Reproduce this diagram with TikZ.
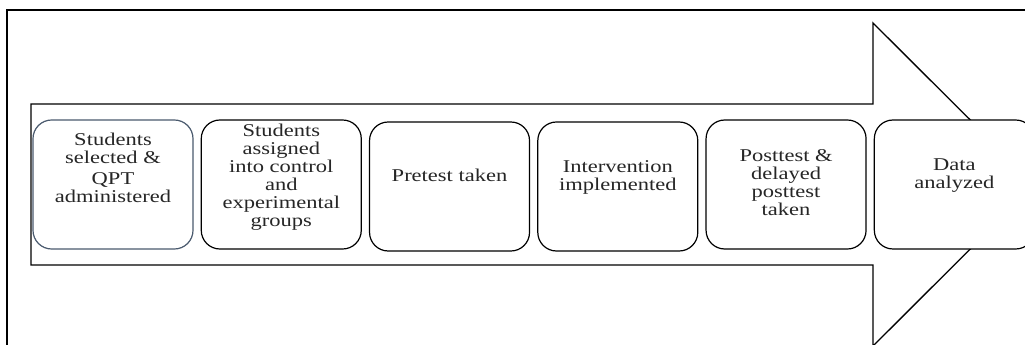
\documentclass[tikz,border=0pt]{standalone}
\usepackage{fontspec}
\setmainfont[FakeStretch=1.25]{Liberation Serif}
\usepackage{xcolor}
\usetikzlibrary{positioning}

\definecolor{slateline}{HTML}{4A5A6E}

\tikzset{
	stage/.style={draw=black, fill=white, line width=0.9pt, rounded corners=14pt, minimum width=120pt, minimum height=96.75pt, inner sep=2pt, align=center, font=\fontsize{13.5}{13.5}\selectfont, text=black!85},
}

\begin{document}
\begin{tikzpicture} [x=0.75pt, y=-0.75pt, node distance=5.3pt]
		
		\useasboundingbox (0,0) rectangle (1025,345);
		\clip (0,0) rectangle (1025,345);
		
		% outer frame
		\draw [line width=1.2pt] (7,350) -- (7,10) -- (1030,10);
		
		% big arrow behind the stages
		\draw [line width=1pt, fill=white] (31,104) -- (873,104) -- (873,23) -- (1035,184.5) -- (873,346) -- (873,265) -- (31,265) -- cycle;
		
		\node (select) [stage, draw=slateline, text depth=25pt] at (113,184.5) {Students\\selected \&\\[2pt]QPT\\administered};
		
		\node (assign) [stage, right=of select, text depth=14pt] {Students\\assigned\\into control\\and\\experimental\\groups};
		
		\node (pretest) [stage, right=of assign, yshift=-1.5pt, text depth=17pt] {Pretest taken};
		
		\node (interv) [stage, right=of pretest, text depth=17pt] {Intervention\\implemented};
		
		\node (posttest) [stage, right=of interv, yshift=1.5pt, text depth=3pt] {Posttest \&\\delayed\\posttest\\taken};
		
		\node (analysis) [stage, right=of posttest, text depth=16pt] {Data\\analyzed};
		
\end{tikzpicture}
\end{document}
